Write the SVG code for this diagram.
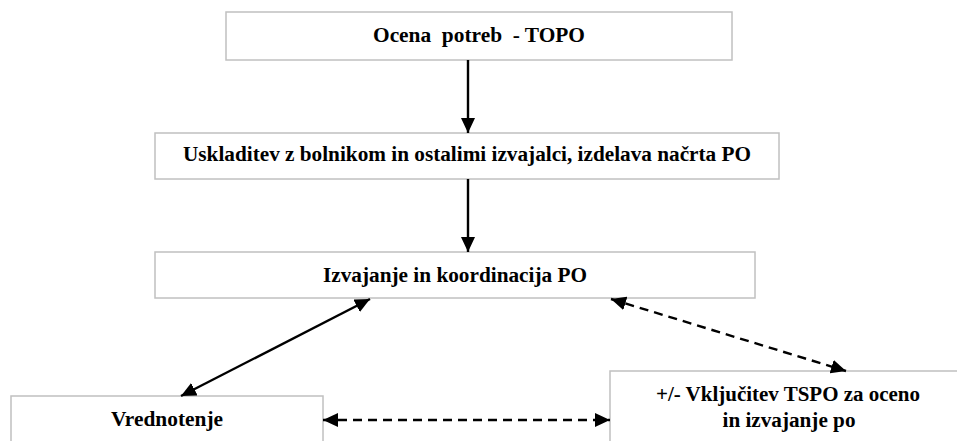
<svg xmlns="http://www.w3.org/2000/svg" width="957" height="441" viewBox="0 0 957 441">
<style>
.box{fill:#fff;stroke:#c0c0c0;stroke-width:1.5}
.lbl{font-family:"Liberation Serif","Times New Roman",serif;font-weight:bold;font-size:20.5px;fill:#000;text-anchor:middle;white-space:pre}
.c{stroke:#000;stroke-width:2.4;fill:none}
.d{stroke-dasharray:9,6}
</style>
<defs>
<marker id="ah" viewBox="0 0 15 14" refX="15" refY="7" markerWidth="15" markerHeight="14" markerUnits="userSpaceOnUse" orient="auto-start-reverse">
<path d="M0,0 L15,7 L0,14 z" fill="#000"/>
</marker>
</defs>
<rect width="957" height="441" fill="#fff"/>
<g id="n1"><rect class="box" x="226" y="12" width="506" height="48"/><text class="lbl" x="479" y="42" textLength="212" lengthAdjust="spacingAndGlyphs">Ocena  potreb  - TOPO</text></g>
<g id="n2"><rect class="box" x="155" y="133" width="624" height="46"/><text class="lbl" x="467" y="161" textLength="568" lengthAdjust="spacingAndGlyphs">Uskladitev z bolnikom in ostalimi izvajalci, izdelava načrta PO</text></g>
<g id="n3"><rect class="box" x="155" y="252" width="600" height="46"/><text class="lbl" x="455" y="282" textLength="264" lengthAdjust="spacingAndGlyphs">Izvajanje in koordinacija PO</text></g>
<g id="n4"><rect class="box" x="11" y="396" width="312" height="60"/><text class="lbl" x="167" y="426" textLength="112" lengthAdjust="spacingAndGlyphs">Vrednotenje</text></g>
<g id="n5"><rect class="box" x="610" y="371" width="360" height="80"/><text class="lbl" x="788" y="401" textLength="264" lengthAdjust="spacingAndGlyphs">+/- Vključitev TSPO za oceno</text><text class="lbl" x="789" y="427" textLength="133" lengthAdjust="spacingAndGlyphs">in izvajanje po</text></g>
<g id="connectors">
<line class="c" x1="468" y1="60" x2="468" y2="133" marker-end="url(#ah)"/>
<line class="c" x1="468" y1="179" x2="468" y2="252" marker-end="url(#ah)"/>
<line class="c" x1="370" y1="299" x2="181" y2="396" marker-start="url(#ah)" marker-end="url(#ah)"/>
<line class="c d" x1="611" y1="299" x2="846" y2="371" marker-start="url(#ah)" marker-end="url(#ah)"/>
<line class="c d" x1="323" y1="420" x2="610" y2="420" marker-start="url(#ah)" marker-end="url(#ah)"/>
</g>
</svg>
